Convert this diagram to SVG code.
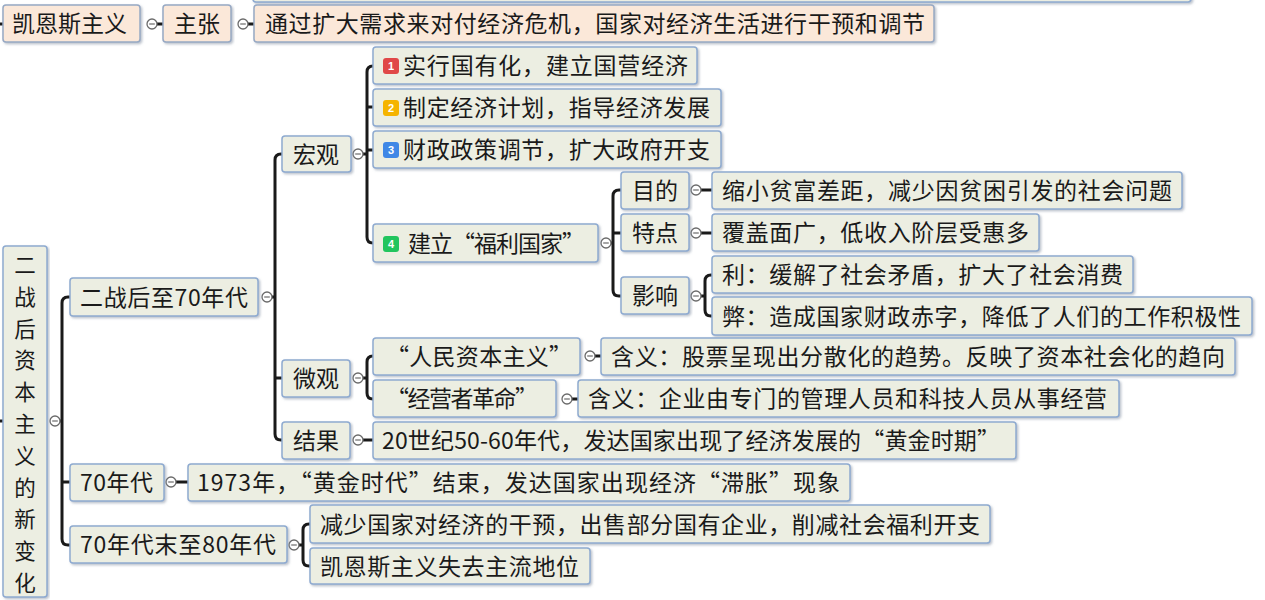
<svg xmlns="http://www.w3.org/2000/svg" width="1265" height="600" viewBox="0 0 1265 600">
<style>
.b{fill:#eceee2;stroke:#8eaad0;stroke-width:1.5}
.p{fill:#fbe8d9;stroke:#97a9c4;stroke-width:1.5}
.t{font-family:"Noto Sans CJK SC","Noto Sans",sans-serif;font-size:23px;fill:#1a1a1a}
.v{font-family:"Noto Sans CJK SC","Noto Sans",sans-serif;font-size:21.5px;fill:#1a1a1a;text-anchor:middle}
.m{text-anchor:middle}
.bd{font-family:"Liberation Sans",sans-serif;font-size:11px;fill:#fff;text-anchor:middle;font-weight:bold}
.c{fill:none;stroke:#1a1a1a;stroke-width:3;stroke-linecap:round;stroke-linejoin:round}
.k{fill:#fff;stroke:#6b6b6b;stroke-width:1.3}
.kl{stroke:#6b6b6b;stroke-width:1.2}
</style>
<defs>
<filter id="sh" x="-5%" y="-20%" width="110%" height="150%"><feDropShadow dx="1.5" dy="1.5" stdDeviation="0.8" flood-color="#7f8da0" flood-opacity="0.55"/></filter>
<g id="knob"><circle r="5" class="k"/><line x1="-2.8" y1="0" x2="2.8" y2="0" class="kl"/></g>
</defs>
<rect width="1265" height="600" fill="#ffffff"/>

<g id="connectors">
<path class="c" d="M0 24 H3 M157 24 H163 M248 24 H254"/>
<path class="c" d="M0 421 H3"/>
<path class="c" d="M60 421 H62 M70 297 H68 Q62 297 62 303 V539 Q62 545 68 545 H70 M62 482 H70"/>
<path class="c" d="M272 297 H275 M282 154 H281 Q275 154 275 160 V434 Q275 440 281 440 H282 M275 378 H282"/>
<path class="c" d="M363 154 H367 M373 66 H373 Q367 66 367 72 V237 Q367 243 373 243 M367 107 H373 M367 150 H373"/>
<path class="c" d="M611 243 H613 M621 190 H619 Q613 190 613 196 V290 Q613 296 619 296 H621 M613 233 H621"/>
<path class="c" d="M701 190 H712 M701 233 H712"/>
<path class="c" d="M701 296 H705 M712 275 H711 Q705 275 705 281 V310 Q705 316 711 316 H712"/>
<path class="c" d="M363 378 H367 M373 356 Q367 356 367 362 V393 Q367 399 373 399"/>
<path class="c" d="M595 356 H601 M572 399 H578"/>
<path class="c" d="M363 440 H373"/>
<path class="c" d="M176 482 H188"/>
<path class="c" d="M299 545 H303 M310 524 H309 Q303 524 303 530 V560 Q303 566 309 566 H310"/>
<use href="#knob" x="152" y="24"/>
<use href="#knob" x="243" y="24"/>
<use href="#knob" x="55" y="421"/>
<use href="#knob" x="267" y="297"/>
<use href="#knob" x="358" y="154"/>
<use href="#knob" x="606" y="243"/>
<use href="#knob" x="696" y="190"/>
<use href="#knob" x="696" y="233"/>
<use href="#knob" x="696" y="296"/>
<use href="#knob" x="358" y="378"/>
<use href="#knob" x="590" y="356"/>
<use href="#knob" x="567" y="399"/>
<use href="#knob" x="358" y="440"/>
<use href="#knob" x="171" y="482"/>
<use href="#knob" x="294" y="545"/>
</g>

<g id="n-top-partial"><rect class="b" x="253" y="-40" width="938" height="42" rx="3" filter="url(#sh)"/></g>

<g id="n-keynes"><rect class="p" x="3" y="5" width="137" height="37" rx="3" filter="url(#sh)"/><text class="t" x="12" y="32" textLength="115">凯恩斯主义</text></g>
<g id="n-zhuzhang"><rect class="p" x="163" y="5" width="68" height="37" rx="3" filter="url(#sh)"/><text class="t m" x="197" y="32">主张</text></g>
<g id="n-zhuzhang-c"><rect class="p" x="254" y="5" width="680" height="37" rx="3" filter="url(#sh)"/><text class="t" x="265" y="32" textLength="660">通过扩大需求来对付经济危机，国家对经济生活进行干预和调节</text></g>

<g id="n-root"><rect class="b" x="3" y="246" width="44" height="351" rx="3" filter="url(#sh)"/>
<text class="v" x="25" y="273">二</text>
<text class="v" x="25" y="304.8">战</text>
<text class="v" x="25" y="336.6">后</text>
<text class="v" x="25" y="368.4">资</text>
<text class="v" x="25" y="400.2">本</text>
<text class="v" x="25" y="432">主</text>
<text class="v" x="25" y="463.8">义</text>
<text class="v" x="25" y="495.6">的</text>
<text class="v" x="25" y="527.4">新</text>
<text class="v" x="25" y="559.2">变</text>
<text class="v" x="25" y="591">化</text>
</g>

<g id="n-postwar"><rect class="b" x="70" y="278" width="188" height="38" rx="3" filter="url(#sh)"/><text class="t" x="80" y="305.5" textLength="168">二战后至70年代</text></g>
<g id="n-macro"><rect class="b" x="282" y="136" width="69" height="36" rx="3" filter="url(#sh)"/><text class="t m" x="316" y="162.5">宏观</text></g>
<g id="n-m1"><rect class="b" x="373" y="47" width="324" height="37" rx="3" filter="url(#sh)"/><rect x="383" y="58" width="16" height="16" rx="3" fill="#e04848"/><text class="bd" x="391" y="70">1</text><text class="t" x="403" y="74" textLength="285">实行国有化，建立国营经济</text></g>
<g id="n-m2"><rect class="b" x="373" y="89" width="348" height="37" rx="3" filter="url(#sh)"/><rect x="383" y="100" width="16" height="16" rx="3" fill="#f5b400"/><text class="bd" x="391" y="112">2</text><text class="t" x="403" y="116" textLength="307">制定经济计划，指导经济发展</text></g>
<g id="n-m3"><rect class="b" x="373" y="131" width="348" height="37" rx="3" filter="url(#sh)"/><rect x="383" y="142" width="16" height="16" rx="3" fill="#3f87e6"/><text class="bd" x="391" y="154">3</text><text class="t" x="403" y="158" textLength="307">财政政策调节，扩大政府开支</text></g>
<g id="n-m4"><rect class="b" x="373" y="224" width="225" height="38" rx="3" filter="url(#sh)"/><rect x="383" y="236" width="16" height="16" rx="3" fill="#22c55e"/><text class="bd" x="391" y="248">4</text><text class="t" x="408" y="251.5" textLength="177">建立“福利国家”</text></g>
<g id="n-aim"><rect class="b" x="621" y="172" width="68" height="37" rx="3" filter="url(#sh)"/><text class="t m" x="655" y="199">目的</text></g>
<g id="n-aim-c"><rect class="b" x="712" y="172" width="470" height="37" rx="3" filter="url(#sh)"/><text class="t" x="722" y="199" textLength="450">缩小贫富差距，减少因贫困引发的社会问题</text></g>
<g id="n-feat"><rect class="b" x="621" y="214" width="68" height="37" rx="3" filter="url(#sh)"/><text class="t m" x="655" y="241">特点</text></g>
<g id="n-feat-c"><rect class="b" x="712" y="214" width="327" height="37" rx="3" filter="url(#sh)"/><text class="t" x="722" y="241" textLength="307">覆盖面广，低收入阶层受惠多</text></g>
<g id="n-eff"><rect class="b" x="621" y="277" width="68" height="37" rx="3" filter="url(#sh)"/><text class="t m" x="655" y="304">影响</text></g>
<g id="n-eff-1"><rect class="b" x="712" y="256" width="421" height="37" rx="3" filter="url(#sh)"/><text class="t" x="722" y="283" textLength="401">利：缓解了社会矛盾，扩大了社会消费</text></g>
<g id="n-eff-2"><rect class="b" x="712" y="297" width="540" height="38" rx="3" filter="url(#sh)"/><text class="t" x="722" y="324.5" textLength="519">弊：造成国家财政赤字，降低了人们的工作积极性</text></g>
<g id="n-micro"><rect class="b" x="282" y="360" width="68" height="37" rx="3" filter="url(#sh)"/><text class="t m" x="316" y="387">微观</text></g>
<g id="n-pc"><rect class="b" x="373" y="338" width="207" height="37" rx="3" filter="url(#sh)"/><text class="t" x="386" y="365" textLength="186">“人民资本主义”</text></g>
<g id="n-pc-c"><rect class="b" x="601" y="338" width="634" height="37" rx="3" filter="url(#sh)"/><text class="t" x="611" y="365" textLength="614">含义：股票呈现出分散化的趋势。反映了资本社会化的趋向</text></g>
<g id="n-mr"><rect class="b" x="373" y="380" width="183" height="37" rx="3" filter="url(#sh)"/><text class="t" x="386" y="407" textLength="152">“经营者革命”</text></g>
<g id="n-mr-c"><rect class="b" x="578" y="380" width="541" height="37" rx="3" filter="url(#sh)"/><text class="t" x="588" y="407" textLength="519">含义：企业由专门的管理人员和科技人员从事经营</text></g>
<g id="n-result"><rect class="b" x="282" y="422" width="68" height="37" rx="3" filter="url(#sh)"/><text class="t m" x="316" y="449">结果</text></g>
<g id="n-result-c"><rect class="b" x="373" y="422" width="643" height="37" rx="3" filter="url(#sh)"/><text class="t" x="382" y="449" textLength="618">20世纪50-60年代，发达国家出现了经济发展的“黄金时期”</text></g>
<g id="n-70s"><rect class="b" x="70" y="464" width="94" height="37" rx="3" filter="url(#sh)"/><text class="t" x="80" y="491" textLength="73">70年代</text></g>
<g id="n-70s-c"><rect class="b" x="188" y="464" width="662" height="37" rx="3" filter="url(#sh)"/><text class="t" x="197" y="491" textLength="643">1973年，“黄金时代”结束，发达国家出现经济“滞胀”现象</text></g>
<g id="n-80s"><rect class="b" x="70" y="526" width="217" height="37" rx="3" filter="url(#sh)"/><text class="t" x="80" y="553" textLength="196">70年代末至80年代</text></g>
<g id="n-80s-1"><rect class="b" x="310" y="505" width="680" height="38" rx="3" filter="url(#sh)"/><text class="t" x="320" y="532.5" textLength="660">减少国家对经济的干预，出售部分国有企业，削减社会福利开支</text></g>
<g id="n-80s-2"><rect class="b" x="310" y="548" width="280" height="36" rx="3" filter="url(#sh)"/><text class="t" x="320" y="574.5" textLength="259">凯恩斯主义失去主流地位</text></g>
</svg>
